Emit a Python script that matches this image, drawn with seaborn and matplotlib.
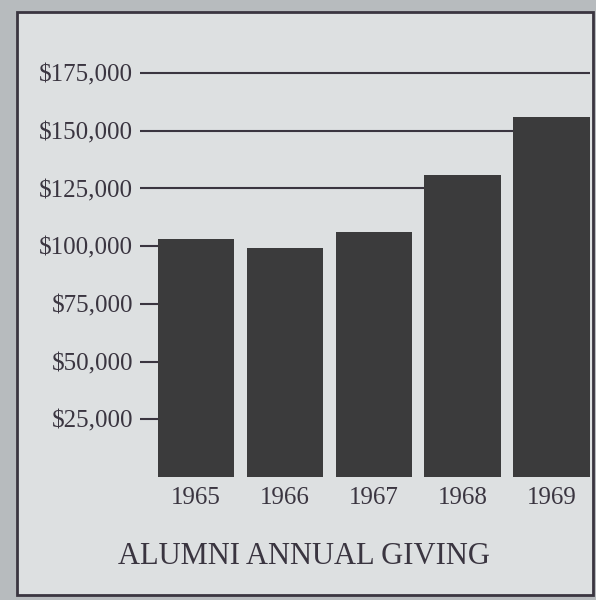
import numpy as np
import pandas as pd
import seaborn as sns
import matplotlib.pyplot as plt
from matplotlib.patches import Rectangle

# alumni annual giving
years = ['1965', '1966', '1967', '1968', '1969']
giving = [103000, 99000, 106000, 131000, 156000]
ticks = [25000, 50000, 75000, 100000, 125000, 150000, 175000]

ink = '#3a3540'
paper = '#dde0e1'
outer = '#b7bbbe'
bar_col = '#3b3b3c'
bar_w = 0.86

sns.set_theme(style='white')
plt.rcParams['font.family'] = ['Liberation Serif', 'DejaVu Serif']

df = pd.DataFrame({'year': years, 'giving': giving})

fig = plt.figure(figsize=(5.96, 6.0), dpi=100, facecolor=outer)
# the framed card the chart sits on
fig.patches.append(Rectangle((17/596, 1-595/600), 576/596, 583/600,
                             transform=fig.transFigure, facecolor=paper,
                             edgecolor=ink, linewidth=2, zorder=-5))

ax = fig.add_axes([140/596, 1-477/600, 450/596, 408.6/600])
ax.set_facecolor('none')
sns.barplot(data=df, x='year', y='giving', color=bar_col, width=bar_w,
            saturation=1, linewidth=0, ax=ax, zorder=2)

xlo, xhi = -0.63, 4.433
ax.set_xlim(xlo, xhi)
ax.set_ylim(0, 177000)

# each rule runs from its label until it meets the first taller bar
for t in ticks:
    end = xhi
    for i, v in enumerate(giving):
        if v > t:
            end = i - bar_w / 2
            break
    ax.hlines(t, xlo, end, color=ink, linewidth=1.5, zorder=1)

ax.set_yticks(ticks)
ax.set_yticklabels(['${:,}'.format(t) for t in ticks])
ax.tick_params(axis='y', length=0, pad=5, labelsize=18, labelcolor=ink)
ax.tick_params(axis='x', length=0, pad=7, labelsize=18, labelcolor=ink)
for s in ax.spines.values():
    s.set_visible(False)
ax.set_xlabel('')
ax.set_ylabel('')

fig.text(304/596, 1-557/600, 'ALUMNI ANNUAL GIVING', ha='center', va='center',
         fontsize=22, color=ink)

fig.savefig('out.png', dpi=100, facecolor=outer)
